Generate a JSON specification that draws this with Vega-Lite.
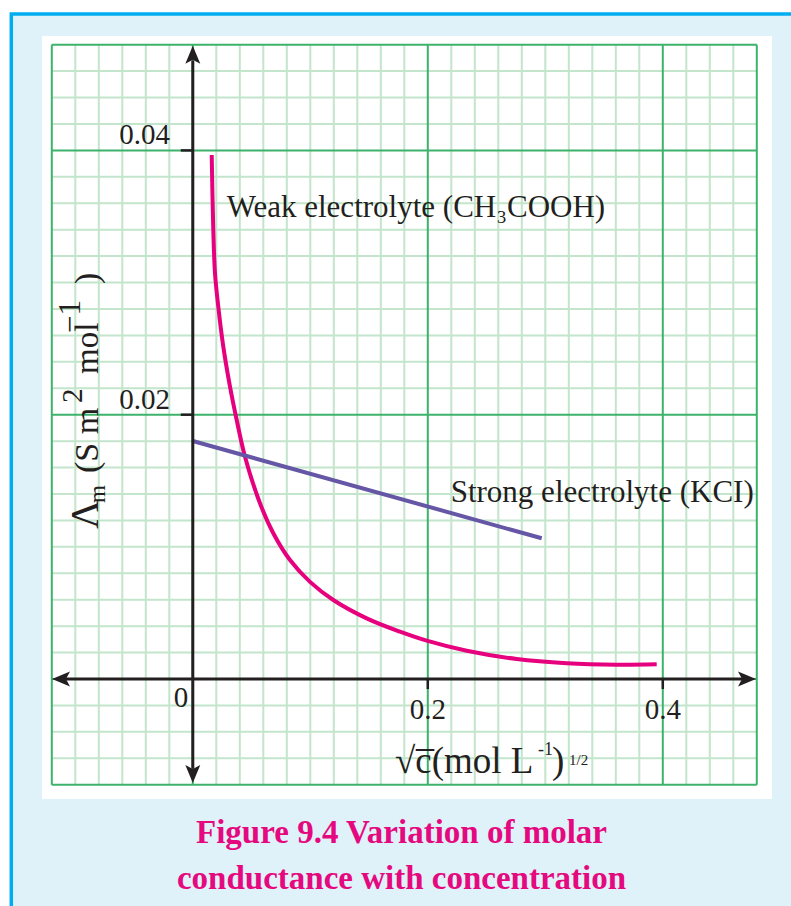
{
  "$schema": "https://vega.github.io/schema/vega-lite/v6.json",
  "width": 730,
  "height": 763,
  "autosize": {"type": "none"},
  "padding": {"left": 42, "top": 36, "right": 19, "bottom": 107},
  "background": "#ffffff",
  "config": {"view": {"stroke": null}, "axis": {"disable": true}, "text": {"font": "Liberation Serif", "color": "#231f20"}},
  "datasets": {
    "blank": [{}],
    "weak": [
      {"x": 0.01609, "y": 0.03965}, {"x": 0.01745, "y": 0.03398}, {"x": 0.01889, "y": 0.03072},
      {"x": 0.02170, "y": 0.02817}, {"x": 0.02596, "y": 0.02515}, {"x": 0.03166, "y": 0.02212},
      {"x": 0.03736, "y": 0.01960}, {"x": 0.04443, "y": 0.01682}, {"x": 0.05719, "y": 0.01330},
      {"x": 0.06851, "y": 0.01103}, {"x": 0.08272, "y": 0.00900}, {"x": 0.09974, "y": 0.00735},
      {"x": 0.11957, "y": 0.00598}, {"x": 0.14800, "y": 0.00459}, {"x": 0.17634, "y": 0.00358},
      {"x": 0.19906, "y": 0.00290}, {"x": 0.23311, "y": 0.00214}, {"x": 0.27566, "y": 0.00151},
      {"x": 0.31821, "y": 0.00119}, {"x": 0.36077, "y": 0.00108}, {"x": 0.39481, "y": 0.00111}
    ],
    "strong": [{"x": 0.0, "y": 0.01801}, {"x": 0.29694, "y": 0.010647}],
    "vgrid": [
      {"v": -0.12, "k": "major"}, {"v": -0.1, "k": "minor"}, {"v": -0.08, "k": "minor"}, {"v": -0.06, "k": "minor"},
      {"v": -0.04, "k": "minor"}, {"v": -0.02, "k": "minor"}, {"v": 0, "k": "major"}, {"v": 0.02, "k": "minor"},
      {"v": 0.04, "k": "minor"}, {"v": 0.06, "k": "minor"}, {"v": 0.08, "k": "minor"}, {"v": 0.1, "k": "minor"},
      {"v": 0.12, "k": "minor"}, {"v": 0.14, "k": "minor"}, {"v": 0.16, "k": "minor"}, {"v": 0.18, "k": "minor"},
      {"v": 0.2, "k": "major"}, {"v": 0.22, "k": "minor"}, {"v": 0.24, "k": "minor"}, {"v": 0.26, "k": "minor"},
      {"v": 0.28, "k": "minor"}, {"v": 0.3, "k": "minor"}, {"v": 0.32, "k": "minor"}, {"v": 0.34, "k": "minor"},
      {"v": 0.36, "k": "minor"}, {"v": 0.38, "k": "minor"}, {"v": 0.4, "k": "major"}, {"v": 0.42, "k": "minor"},
      {"v": 0.44, "k": "minor"}, {"v": 0.46, "k": "minor"}, {"v": 0.48, "k": "major"}
    ],
    "hgrid": [
      {"v": -0.008, "k": "major"}, {"v": -0.006, "k": "minor"}, {"v": -0.004, "k": "minor"}, {"v": -0.002, "k": "minor"},
      {"v": 0, "k": "major"}, {"v": 0.002, "k": "minor"}, {"v": 0.004, "k": "minor"}, {"v": 0.006, "k": "minor"},
      {"v": 0.008, "k": "minor"}, {"v": 0.01, "k": "minor"}, {"v": 0.012, "k": "minor"}, {"v": 0.014, "k": "minor"},
      {"v": 0.016, "k": "minor"}, {"v": 0.018, "k": "minor"}, {"v": 0.02, "k": "major"}, {"v": 0.022, "k": "minor"},
      {"v": 0.024, "k": "minor"}, {"v": 0.026, "k": "minor"}, {"v": 0.028, "k": "minor"}, {"v": 0.03, "k": "minor"},
      {"v": 0.032, "k": "minor"}, {"v": 0.034, "k": "minor"}, {"v": 0.036, "k": "minor"}, {"v": 0.038, "k": "minor"},
      {"v": 0.04, "k": "major"}, {"v": 0.042, "k": "minor"}, {"v": 0.044, "k": "minor"}, {"v": 0.046, "k": "minor"},
      {"v": 0.048, "k": "major"}
    ],
    "xlab": [{"v": 0.2, "t": "0.2"}, {"v": 0.4, "t": "0.4"}],
    "ylab": [{"v": 0.02, "t": "0.02"}, {"v": 0.04, "t": "0.04"}]
  },
  "layer": [
    {
      "data": {"name": "blank"},
      "mark": {"type": "rect", "fill": "#dff1f9", "stroke": "#00aeef", "strokeWidth": 3.5},
      "encoding": {
        "x": {"datum": -0.15447, "type": "quantitative", "scale": {"domain": [-0.12834, 0.49294], "nice": false, "zero": false}},
        "x2": {"datum": 0.7},
        "y": {"datum": 0.050322, "type": "quantitative", "scale": {"domain": [-0.009081, 0.048657], "nice": false, "zero": false}},
        "y2": {"datum": -0.05}
      }
    },
    {
      "data": {"name": "blank"},
      "mark": {"type": "rect", "fill": "#ffffff"},
      "encoding": {
        "x": {"datum": -0.12834, "type": "quantitative", "scale": {"domain": [-0.12834, 0.49294], "nice": false, "zero": false}},
        "x2": {"datum": 0.49294},
        "y": {"datum": 0.048657, "type": "quantitative", "scale": {"domain": [-0.009081, 0.048657], "nice": false, "zero": false}},
        "y2": {"datum": -0.009081}
      }
    },
    {
      "data": {"name": "vgrid"},
      "transform": [{"filter": "datum.k == 'minor'"}],
      "mark": {"type": "rule", "color": "#c2e5cb", "strokeWidth": 2},
      "encoding": {
        "x": {"field": "v", "type": "quantitative", "scale": {"domain": [-0.12834, 0.49294], "nice": false, "zero": false}},
        "y": {"datum": -0.008, "type": "quantitative", "scale": {"domain": [-0.009081, 0.048657], "nice": false, "zero": false}},
        "y2": {"datum": 0.048}
      }
    },
    {
      "data": {"name": "hgrid"},
      "transform": [{"filter": "datum.k == 'minor'"}],
      "mark": {"type": "rule", "color": "#c2e5cb", "strokeWidth": 2},
      "encoding": {
        "y": {"field": "v", "type": "quantitative", "scale": {"domain": [-0.009081, 0.048657], "nice": false, "zero": false}},
        "x": {"datum": -0.12, "type": "quantitative", "scale": {"domain": [-0.12834, 0.49294], "nice": false, "zero": false}},
        "x2": {"datum": 0.48}
      }
    },
    {
      "data": {"name": "vgrid"},
      "transform": [{"filter": "datum.k == 'major'"}],
      "mark": {"type": "rule", "color": "#3db26a", "strokeWidth": 2},
      "encoding": {
        "x": {"field": "v", "type": "quantitative", "scale": {"domain": [-0.12834, 0.49294], "nice": false, "zero": false}},
        "y": {"datum": -0.008, "type": "quantitative", "scale": {"domain": [-0.009081, 0.048657], "nice": false, "zero": false}},
        "y2": {"datum": 0.048}
      }
    },
    {
      "data": {"name": "hgrid"},
      "transform": [{"filter": "datum.k == 'major'"}],
      "mark": {"type": "rule", "color": "#3db26a", "strokeWidth": 2},
      "encoding": {
        "y": {"field": "v", "type": "quantitative", "scale": {"domain": [-0.009081, 0.048657], "nice": false, "zero": false}},
        "x": {"datum": -0.12, "type": "quantitative", "scale": {"domain": [-0.12834, 0.49294], "nice": false, "zero": false}},
        "x2": {"datum": 0.48}
      }
    },
    {
      "data": {"name": "weak"},
      "mark": {"type": "line", "color": "#e6007e", "strokeWidth": 4, "interpolate": "catmull-rom"},
      "encoding": {
        "x": {"field": "x", "type": "quantitative", "scale": {"domain": [-0.12834, 0.49294], "nice": false, "zero": false}},
        "y": {"field": "y", "type": "quantitative", "scale": {"domain": [-0.009081, 0.048657], "nice": false, "zero": false}}
      }
    },
    {
      "data": {"name": "strong"},
      "mark": {"type": "line", "color": "#6656a6", "strokeWidth": 4},
      "encoding": {
        "x": {"field": "x", "type": "quantitative", "scale": {"domain": [-0.12834, 0.49294], "nice": false, "zero": false}},
        "y": {"field": "y", "type": "quantitative", "scale": {"domain": [-0.009081, 0.048657], "nice": false, "zero": false}}
      }
    },
    {
      "data": {"name": "blank"},
      "mark": {"type": "rule", "color": "#231f20", "strokeWidth": 3},
      "encoding": {
        "x": {"datum": -0.115, "type": "quantitative", "scale": {"domain": [-0.12834, 0.49294], "nice": false, "zero": false}},
        "x2": {"datum": 0.468},
        "y": {"datum": 0, "type": "quantitative", "scale": {"domain": [-0.009081, 0.048657], "nice": false, "zero": false}}
      }
    },
    {
      "data": {"name": "blank"},
      "mark": {"type": "rule", "color": "#231f20", "strokeWidth": 3},
      "encoding": {
        "x": {"datum": 0, "type": "quantitative", "scale": {"domain": [-0.12834, 0.49294], "nice": false, "zero": false}},
        "y": {"datum": -0.0068, "type": "quantitative", "scale": {"domain": [-0.009081, 0.048657], "nice": false, "zero": false}},
        "y2": {"datum": 0.0468}
      }
    },
    {
      "data": {"name": "ylab"},
      "mark": {"type": "rule", "color": "#231f20", "strokeWidth": 2.5},
      "encoding": {
        "x": {"datum": -0.0102, "type": "quantitative", "scale": {"domain": [-0.12834, 0.49294], "nice": false, "zero": false}},
        "x2": {"datum": 0},
        "y": {"field": "v", "type": "quantitative", "scale": {"domain": [-0.009081, 0.048657], "nice": false, "zero": false}}
      }
    },
    {
      "data": {"name": "xlab"},
      "mark": {"type": "rule", "color": "#231f20", "strokeWidth": 2.5},
      "encoding": {
        "x": {"field": "v", "type": "quantitative", "scale": {"domain": [-0.12834, 0.49294], "nice": false, "zero": false}},
        "y": {"datum": 0, "type": "quantitative", "scale": {"domain": [-0.009081, 0.048657], "nice": false, "zero": false}},
        "y2": {"datum": -0.00076}
      }
    },
    {
      "data": {"name": "blank"},
      "mark": {"type": "point", "filled": true, "color": "#231f20", "opacity": 1, "size": 324, "shape": "M0,-1L0.83,1L0,0.55L-0.83,1Z", "angle": 0},
      "encoding": {
        "x": {"datum": 0, "type": "quantitative", "scale": {"domain": [-0.12834, 0.49294], "nice": false, "zero": false}},
        "y": {"datum": 0.047242, "type": "quantitative", "scale": {"domain": [-0.009081, 0.048657], "nice": false, "zero": false}}
      }
    },
    {
      "data": {"name": "blank"},
      "mark": {"type": "point", "filled": true, "color": "#231f20", "opacity": 1, "size": 324, "shape": "M0,-1L0.83,1L0,0.55L-0.83,1Z", "angle": 180},
      "encoding": {
        "x": {"datum": 0, "type": "quantitative", "scale": {"domain": [-0.12834, 0.49294], "nice": false, "zero": false}},
        "y": {"datum": -0.007189, "type": "quantitative", "scale": {"domain": [-0.009081, 0.048657], "nice": false, "zero": false}}
      }
    },
    {
      "data": {"name": "blank"},
      "mark": {"type": "point", "filled": true, "color": "#231f20", "opacity": 1, "size": 324, "shape": "M0,-1L0.83,1L0,0.55L-0.83,1Z", "angle": 270},
      "encoding": {
        "x": {"datum": -0.11217, "type": "quantitative", "scale": {"domain": [-0.12834, 0.49294], "nice": false, "zero": false}},
        "y": {"datum": 0, "type": "quantitative", "scale": {"domain": [-0.009081, 0.048657], "nice": false, "zero": false}}
      }
    },
    {
      "data": {"name": "blank"},
      "mark": {"type": "point", "filled": true, "color": "#231f20", "opacity": 1, "size": 324, "shape": "M0,-1L0.83,1L0,0.55L-0.83,1Z", "angle": 90},
      "encoding": {
        "x": {"datum": 0.47166, "type": "quantitative", "scale": {"domain": [-0.12834, 0.49294], "nice": false, "zero": false}},
        "y": {"datum": 0, "type": "quantitative", "scale": {"domain": [-0.009081, 0.048657], "nice": false, "zero": false}}
      }
    },
    {
      "data": {"name": "ylab"},
      "mark": {"type": "text", "fontSize": 29, "align": "right", "baseline": "alphabetic", "dy": -6},
      "encoding": {
        "x": {"datum": -0.0194, "type": "quantitative", "scale": {"domain": [-0.12834, 0.49294], "nice": false, "zero": false}},
        "y": {"field": "v", "type": "quantitative", "scale": {"domain": [-0.009081, 0.048657], "nice": false, "zero": false}},
        "text": {"field": "t"}
      }
    },
    {
      "data": {"name": "xlab"},
      "mark": {"type": "text", "fontSize": 29, "align": "center", "baseline": "alphabetic", "dy": 40},
      "encoding": {
        "x": {"field": "v", "type": "quantitative", "scale": {"domain": [-0.12834, 0.49294], "nice": false, "zero": false}},
        "y": {"datum": 0, "type": "quantitative", "scale": {"domain": [-0.009081, 0.048657], "nice": false, "zero": false}},
        "text": {"field": "t"}
      }
    },
    {
      "data": {"name": "blank"},
      "mark": {"type": "text", "fontSize": 29, "align": "center", "baseline": "alphabetic", "text": "0"},
      "encoding": {
        "x": {"datum": -0.01004, "type": "quantitative", "scale": {"domain": [-0.12834, 0.49294], "nice": false, "zero": false}},
        "y": {"datum": -0.002119, "type": "quantitative", "scale": {"domain": [-0.009081, 0.048657], "nice": false, "zero": false}}
      }
    },
    {
      "data": {"name": "blank"},
      "mark": {"type": "text", "fontSize": 31, "align": "left", "baseline": "alphabetic", "text": "Weak electrolyte (CH₃COOH)"},
      "encoding": {
        "x": {"datum": 0.02885, "type": "quantitative", "scale": {"domain": [-0.12834, 0.49294], "nice": false, "zero": false}},
        "y": {"datum": 0.034938, "type": "quantitative", "scale": {"domain": [-0.009081, 0.048657], "nice": false, "zero": false}}
      }
    },
    {
      "data": {"name": "blank"},
      "mark": {"type": "text", "fontSize": 31, "align": "left", "baseline": "alphabetic", "text": "Strong electrolyte (KCI)"},
      "encoding": {
        "x": {"datum": 0.21949, "type": "quantitative", "scale": {"domain": [-0.12834, 0.49294], "nice": false, "zero": false}},
        "y": {"datum": 0.013417, "type": "quantitative", "scale": {"domain": [-0.009081, 0.048657], "nice": false, "zero": false}}
      }
    },
    {
      "data": {"name": "blank"},
      "mark": {"type": "text", "fontSize": 37, "align": "left", "baseline": "alphabetic", "text": "√c̅(mol L"},
      "encoding": {
        "x": {"datum": 0.17209, "type": "quantitative", "scale": {"domain": [-0.12834, 0.49294], "nice": false, "zero": false}},
        "y": {"datum": -0.007113, "type": "quantitative", "scale": {"domain": [-0.009081, 0.048657], "nice": false, "zero": false}}
      }
    },
    {
      "data": {"name": "blank"},
      "mark": {"type": "text", "fontSize": 18, "align": "left", "baseline": "alphabetic", "text": "-1"},
      "encoding": {
        "x": {"datum": 0.29379, "type": "quantitative", "scale": {"domain": [-0.12834, 0.49294], "nice": false, "zero": false}},
        "y": {"datum": -0.005751, "type": "quantitative", "scale": {"domain": [-0.009081, 0.048657], "nice": false, "zero": false}}
      }
    },
    {
      "data": {"name": "blank"},
      "mark": {"type": "text", "fontSize": 37, "align": "left", "baseline": "alphabetic", "text": ")"},
      "encoding": {
        "x": {"datum": 0.3057, "type": "quantitative", "scale": {"domain": [-0.12834, 0.49294], "nice": false, "zero": false}},
        "y": {"datum": -0.007113, "type": "quantitative", "scale": {"domain": [-0.009081, 0.048657], "nice": false, "zero": false}}
      }
    },
    {
      "data": {"name": "blank"},
      "mark": {"type": "text", "fontSize": 15, "align": "left", "baseline": "alphabetic", "text": "1/2"},
      "encoding": {
        "x": {"datum": 0.32017, "type": "quantitative", "scale": {"domain": [-0.12834, 0.49294], "nice": false, "zero": false}},
        "y": {"datum": -0.006508, "type": "quantitative", "scale": {"domain": [-0.009081, 0.048657], "nice": false, "zero": false}}
      }
    },
    {
      "data": {"name": "blank"},
      "mark": {"type": "text", "fontSize": 40, "angle": 270, "align": "left", "baseline": "alphabetic", "text": "Λ"},
      "encoding": {
        "x": {"datum": -0.08068, "type": "quantitative", "scale": {"domain": [-0.12834, 0.49294], "nice": false, "zero": false}},
        "y": {"datum": 0.011351, "type": "quantitative", "scale": {"domain": [-0.009081, 0.048657], "nice": false, "zero": false}}
      }
    },
    {
      "data": {"name": "blank"},
      "mark": {"type": "text", "fontSize": 23, "angle": 270, "align": "left", "baseline": "alphabetic", "text": "m"},
      "encoding": {
        "x": {"datum": -0.074723, "type": "quantitative", "scale": {"domain": [-0.12834, 0.49294], "nice": false, "zero": false}},
        "y": {"datum": 0.013318, "type": "quantitative", "scale": {"domain": [-0.009081, 0.048657], "nice": false, "zero": false}}
      }
    },
    {
      "data": {"name": "blank"},
      "mark": {"type": "text", "fontSize": 34, "angle": 270, "align": "left", "baseline": "alphabetic", "text": "(S m"},
      "encoding": {
        "x": {"datum": -0.08068, "type": "quantitative", "scale": {"domain": [-0.12834, 0.49294], "nice": false, "zero": false}},
        "y": {"datum": 0.015588, "type": "quantitative", "scale": {"domain": [-0.009081, 0.048657], "nice": false, "zero": false}}
      }
    },
    {
      "data": {"name": "blank"},
      "mark": {"type": "text", "fontSize": 29, "angle": 270, "align": "left", "baseline": "alphabetic", "text": "2"},
      "encoding": {
        "x": {"datum": -0.094298, "type": "quantitative", "scale": {"domain": [-0.12834, 0.49294], "nice": false, "zero": false}},
        "y": {"datum": 0.020885, "type": "quantitative", "scale": {"domain": [-0.009081, 0.048657], "nice": false, "zero": false}}
      }
    },
    {
      "data": {"name": "blank"},
      "mark": {"type": "text", "fontSize": 33, "angle": 270, "align": "left", "baseline": "alphabetic", "text": "mol"},
      "encoding": {
        "x": {"datum": -0.08068, "type": "quantitative", "scale": {"domain": [-0.12834, 0.49294], "nice": false, "zero": false}},
        "y": {"datum": 0.02308, "type": "quantitative", "scale": {"domain": [-0.009081, 0.048657], "nice": false, "zero": false}}
      }
    },
    {
      "data": {"name": "blank"},
      "mark": {"type": "text", "fontSize": 31, "angle": 270, "align": "left", "baseline": "alphabetic", "text": "−1"},
      "encoding": {
        "x": {"datum": -0.096, "type": "quantitative", "scale": {"domain": [-0.12834, 0.49294], "nice": false, "zero": false}},
        "y": {"datum": 0.026182, "type": "quantitative", "scale": {"domain": [-0.009081, 0.048657], "nice": false, "zero": false}}
      }
    },
    {
      "data": {"name": "blank"},
      "mark": {"type": "text", "fontSize": 34, "angle": 270, "align": "left", "baseline": "alphabetic", "text": ")"},
      "encoding": {
        "x": {"datum": -0.08068, "type": "quantitative", "scale": {"domain": [-0.12834, 0.49294], "nice": false, "zero": false}},
        "y": {"datum": 0.02989, "type": "quantitative", "scale": {"domain": [-0.009081, 0.048657], "nice": false, "zero": false}}
      }
    },
    {
      "data": {"name": "blank"},
      "mark": {"type": "text", "fontSize": 33, "fontWeight": "bold", "color": "#e5097f", "align": "center", "baseline": "alphabetic", "lineHeight": 46, "text": ["Figure 9.4 Variation of molar", "conductance with concentration"]},
      "encoding": {
        "x": {"datum": 0.17762, "type": "quantitative", "scale": {"domain": [-0.12834, 0.49294], "nice": false, "zero": false}},
        "y": {"datum": -0.01241, "type": "quantitative", "scale": {"domain": [-0.009081, 0.048657], "nice": false, "zero": false}}
      }
    }
  ]
}
